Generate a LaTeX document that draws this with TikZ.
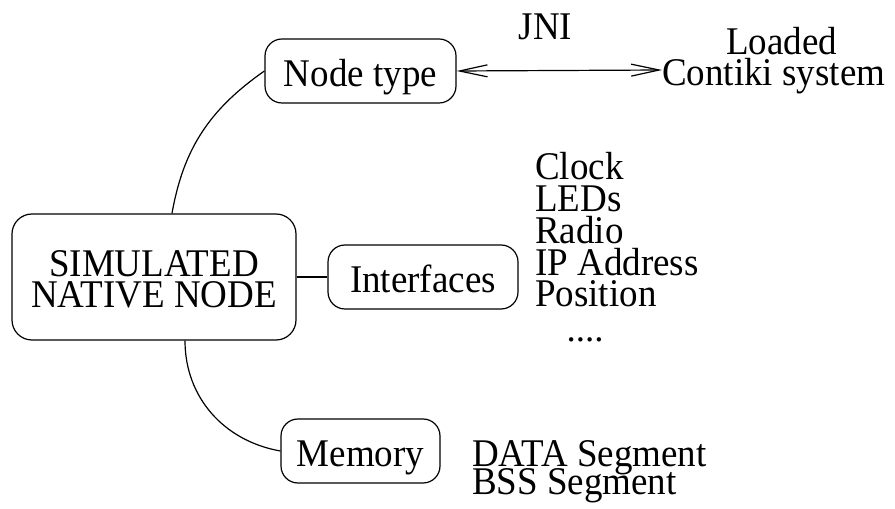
\documentclass[tikz,border=0pt]{standalone}
\usepackage{fontspec}
\setmainfont{Liberation Serif}
\usetikzlibrary{arrows.meta}
% slightly taller lettering
\newcommand{\tallText}[1]{\scalebox{1}[1.06]{#1}}
\begin{document}
\begin{tikzpicture}[x=1pt,y=1pt,
  every node/.style={font=\fontsize{37}{31}\selectfont, inner sep=0pt},
  box/.style={draw, line width=1.2pt, rounded corners=17pt,
              text height=32pt, text depth=0pt},
  lbl/.style={text height=32pt, text depth=0pt},
  link/.style={line width=1.2pt},
  jni/.style={line width=1.2pt,
    {Straight Barb[length=28pt,width=12pt]}-{Straight Barb[length=28pt,width=12pt]}}
]
\useasboundingbox (0,0) rectangle (895,509);

% central node and its title
\node[box, rounded corners=20pt, minimum width=284pt, minimum height=126pt] (sim) at (154,232) {};
\node[anchor=base] (simA) at (154,232) {\tallText{SIMULATED}};
\node[anchor=base] (simB) at (154,201) {\tallText{NATIVE NODE}};

% the three parts
\node[box, minimum width=191pt, minimum height=64pt] (ntype) at (360.5,438) {\tallText{Node type}};
\node[box, minimum width=190pt, minimum height=64pt] (iface) at (423,232) {\tallText{Interfaces}};
\node[box, minimum width=159pt, minimum height=64pt] (mem) at (360.5,58) {\tallText{Memory}};

% node type is bound to the loaded Contiki system through JNI
\node[anchor=base] (jnilbl) at (545.5,469) {\tallText{JNI}};
\node[anchor=base] (loaded) at (781.5,454) {\tallText{Loaded}};
\node[lbl, anchor=base west] (contiki) at (662,423) {\tallText{Contiki system}};

% interfaces
\node[anchor=base west] (clock) at (535,329) {\tallText{Clock}};
\node[anchor=base west] (leds) at (535,297.25) {\tallText{LEDs}};
\node[anchor=base west] (radio) at (535,265.5) {\tallText{Radio}};
\node[anchor=base west] (ipaddr) at (535,233.75) {\tallText{IP Address}};
\node[anchor=base west] (pos) at (535,202) {\tallText{Position}};
\node[anchor=base] (more) at (585,167) {....};

% memory segments
\node[anchor=base west] (dataseg) at (472,42) {\tallText{DATA Segment}};
\node[anchor=base west] (bssseg) at (472,14) {\tallText{BSS Segment}};

% connectors
\draw[link] ([xshift=18pt]sim.north) to[out=80,in=215] (ntype.west);
\draw[link] (sim.east) -- (iface.west);
\draw[link] ([xshift=31pt]sim.south) to[out=-90,in=170] (mem.west);
\draw[jni] (ntype.east) -- (contiki.west);
\end{tikzpicture}
\end{document}
